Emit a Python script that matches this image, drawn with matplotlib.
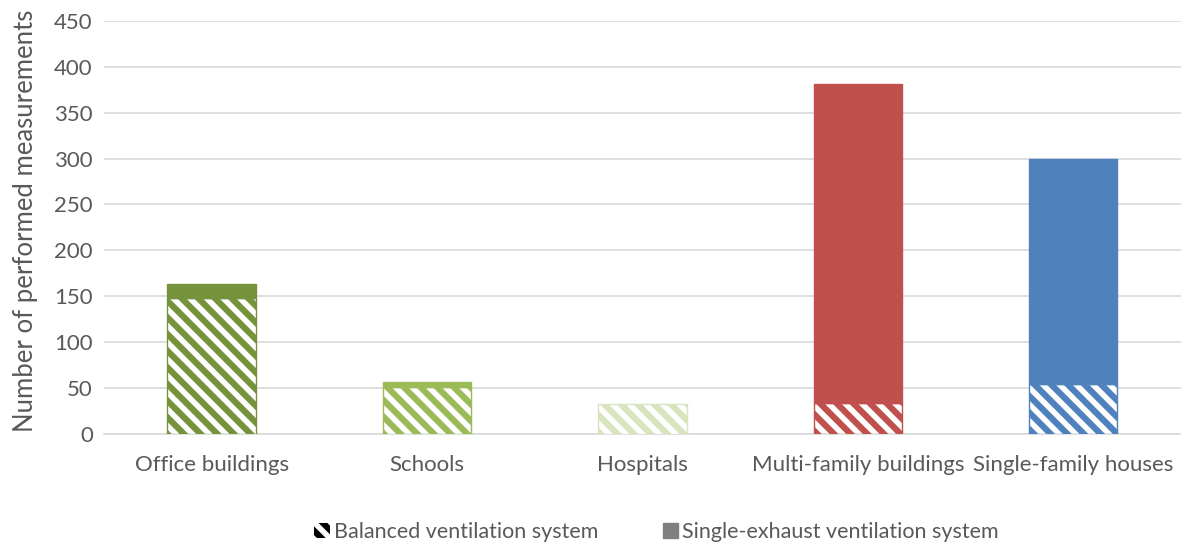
import matplotlib.pyplot as plt
from matplotlib.patches import Patch

plt.rcParams['font.family'] = ['Lato', 'DejaVu Sans']
plt.rcParams['hatch.linewidth'] = 4.5

categories = ['Office buildings', 'Schools', 'Hospitals',
              'Multi-family buildings', 'Single-family houses']
balanced = [148, 51, 33, 34, 55]
single_exhaust = [15, 6, 0, 347, 245]
colors = ['#76933C', '#9BBB59', '#D7E4BD', '#C0504D', '#4F81BD']

text_col = '#595959'
grid_col = '#D9D9D9'

fig = plt.figure(figsize=(11.81, 5.46), dpi=100)
ax = fig.add_axes([0.088, 0.205, 0.912, 0.757])

x = range(len(categories))
w = 0.41
for i in x:
    ax.bar(i, balanced[i], w, color='white', edgecolor=colors[i],
           hatch='\\\\', linewidth=1.0, zorder=3)
    if single_exhaust[i] > 0:
        ax.bar(i, single_exhaust[i], w, bottom=balanced[i], color=colors[i],
               edgecolor=colors[i], linewidth=1.0, zorder=3)

ax.set_xlim(-0.5, 4.5)
ax.set_ylim(0, 450)
ax.set_yticks(range(0, 451, 50))
ax.set_xticks(list(x))
ax.set_xticklabels(categories)
ax.yaxis.grid(True, color=grid_col, linewidth=1.2, zorder=0)
ax.set_axisbelow(True)
for s in ['top', 'right', 'left']:
    ax.spines[s].set_visible(False)
ax.spines['bottom'].set_color(grid_col)
ax.spines['bottom'].set_linewidth(1.2)
ax.tick_params(length=0, labelsize=16, colors=text_col)
ax.tick_params(axis='x', pad=15)
ax.tick_params(axis='y', pad=8)
ax.set_ylabel('Number of performed measurements', fontsize=18.5, color=text_col)
ax.yaxis.set_label_coords(-0.061, 0.516)

handles = [Patch(facecolor='white', edgecolor='black', hatch='\\\\', linewidth=0),
           Patch(facecolor='#808080', edgecolor='#808080')]
fig.legend(handles, ['Balanced ventilation system', 'Single-exhaust ventilation system'],
           loc='center', bbox_to_anchor=(0.556, 0.025), ncol=2, frameon=False,
           fontsize=15.5, labelcolor=text_col, handlelength=0.7, handleheight=0.7,
           handletextpad=0.2, columnspacing=3.0)

fig.savefig('out.png', dpi=100)
